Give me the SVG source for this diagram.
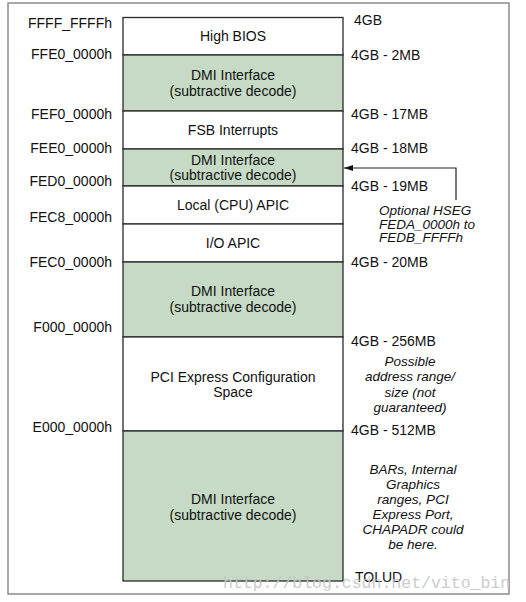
<svg xmlns="http://www.w3.org/2000/svg" width="526" height="602" viewBox="0 0 526 602">
<defs>
<style>
text{font-family:"Liberation Sans",Arial,sans-serif;font-size:14px;fill:#111}
.c{text-anchor:middle}
.r{text-anchor:end}
.i{font-style:italic;text-anchor:middle;font-size:13.5px}
.il{font-style:italic;font-size:13.5px}
.blk{stroke:#2a2a2a;stroke-width:1.3}
.w{fill:#ffffff}
.g{fill:#c6dac5}
.wm{font-family:"Liberation Mono","DejaVu Sans Mono",monospace;font-size:16.5px;fill:#c4c4c4;opacity:0.85}
</style>
<marker id="ah" markerWidth="9" markerHeight="6" refX="9" refY="3" orient="auto" markerUnits="userSpaceOnUse">
<path d="M0,0 L9,3 L0,6 z" fill="#111"/>
</marker>
</defs>
<rect x="8" y="3" width="501" height="591" fill="#ffffff" stroke="#8c8c8c" stroke-width="1.5"/>
<g id="high-bios"><rect class="blk w" x="123" y="17.5" width="220" height="37.5"/><text class="c" x="233" y="41">High BIOS</text></g>
<g id="dmi-1"><rect class="blk g" x="123" y="55" width="220" height="56"/><text class="c" x="233" y="80">DMI Interface</text><text class="c" x="233" y="96">(subtractive decode)</text></g>
<g id="fsb"><rect class="blk w" x="123" y="111" width="220" height="38"/><text class="c" x="233" y="135">FSB Interrupts</text></g>
<g id="dmi-2"><rect class="blk g" x="123" y="149" width="220" height="37"/><text class="c" x="233" y="165">DMI Interface</text><text class="c" x="233" y="180">(subtractive decode)</text></g>
<g id="local-apic"><rect class="blk w" x="123" y="186" width="220" height="38"/><text class="c" x="233" y="210">Local (CPU) APIC</text></g>
<g id="io-apic"><rect class="blk w" x="123" y="224" width="220" height="38"/><text class="c" x="233" y="248">I/O APIC</text></g>
<g id="dmi-3"><rect class="blk g" x="123" y="262" width="220" height="75"/><text class="c" x="233" y="296">DMI Interface</text><text class="c" x="233" y="312">(subtractive decode)</text></g>
<g id="pcie"><rect class="blk w" x="123" y="337" width="220" height="94"/><text class="c" x="233" y="382">PCI Express Configuration</text><text class="c" x="233" y="397">Space</text></g>
<g id="dmi-4"><rect class="blk g" x="123" y="431" width="220" height="150"/><text class="c" x="233" y="504">DMI Interface</text><text class="c" x="233" y="520">(subtractive decode)</text></g>
<g id="left-labels">
<text class="r" x="112" y="28">FFFF_FFFFh</text>
<text class="r" x="112" y="59">FFE0_0000h</text>
<text class="r" x="112" y="119">FEF0_0000h</text>
<text class="r" x="112" y="153">FEE0_0000h</text>
<text class="r" x="112" y="186">FED0_0000h</text>
<text class="r" x="112" y="222">FEC8_0000h</text>
<text class="r" x="112" y="267">FEC0_0000h</text>
<text class="r" x="112" y="332">F000_0000h</text>
<text class="r" x="112" y="432">E000_0000h</text>
</g>
<g id="right-labels">
<text x="354" y="25">4GB</text>
<text x="351" y="60">4GB - 2MB</text>
<text x="351" y="119">4GB - 17MB</text>
<text x="351" y="153">4GB - 18MB</text>
<text x="351" y="191">4GB - 19MB</text>
<text x="351" y="267">4GB - 20MB</text>
<text x="351" y="346">4GB - 256MB</text>
<text x="351" y="435">4GB - 512MB</text>
<text x="355" y="582">TOLUD</text>
</g>
<g id="hseg-note">
<text class="il" x="379" y="215">Optional HSEG</text>
<text class="il" x="379" y="228.5">FEDA_0000h to</text>
<text class="il" x="379" y="242">FEDB_FFFFh</text>
</g>
<g id="pcie-note">
<text class="i" x="410" y="366">Possible</text>
<text class="i" x="410" y="381">address range/</text>
<text class="i" x="410" y="397">size (not</text>
<text class="i" x="410" y="412">guaranteed)</text>
</g>
<g id="bars-note">
<text class="i" x="413" y="474">BARs, Internal</text>
<text class="i" x="413" y="489">Graphics</text>
<text class="i" x="413" y="504">ranges, PCI</text>
<text class="i" x="413" y="519">Express Port,</text>
<text class="i" x="413" y="534">CHAPADR could</text>
<text class="i" x="413" y="549">be here.</text>
</g>
<g id="connectors">
<polyline points="456,200 456,168 344,168" fill="none" stroke="#222" stroke-width="1.2" marker-end="url(#ah)"/>
</g>
<text class="wm" x="223" y="588">http://blog.csdn.net/vito_bin</text>
</svg>
